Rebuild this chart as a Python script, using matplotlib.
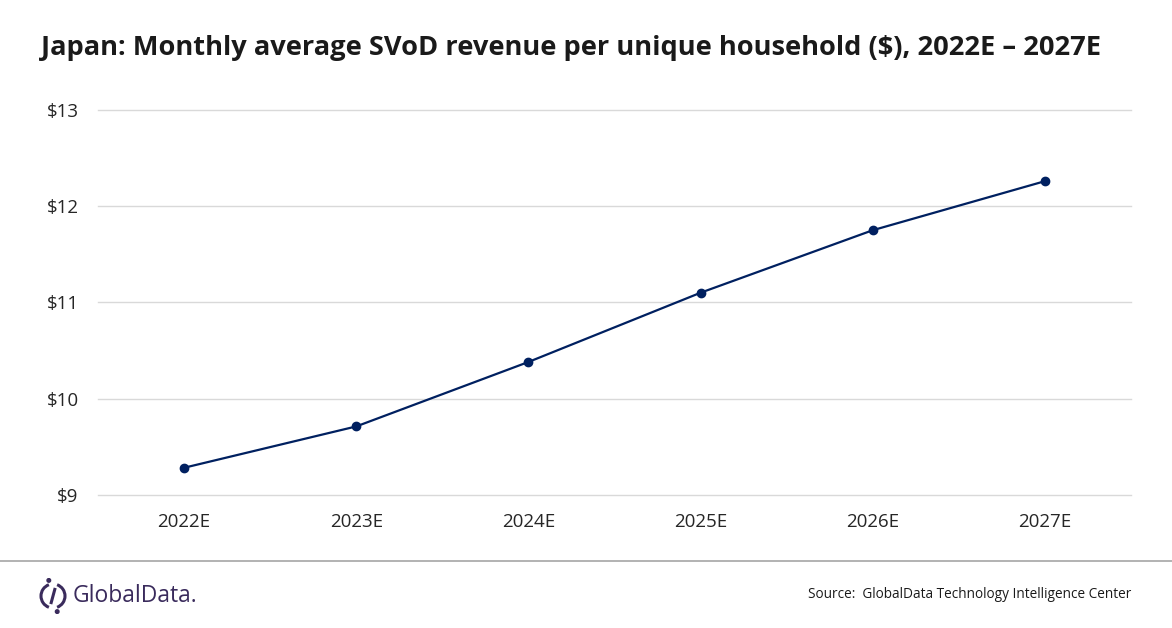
import matplotlib
matplotlib.use("Agg")
import matplotlib.pyplot as plt
from matplotlib.patches import Arc, Circle
from matplotlib.lines import Line2D

# data
years = ["2022E", "2023E", "2024E", "2025E", "2026E", "2027E"]
revenue = [9.28, 9.71, 10.38, 11.10, 11.75, 12.26]
y_ticks = [9, 10, 11, 12, 13]
y_labels = ["$9", "$10", "$11", "$12", "$13"]

navy = "#002060"
purple = "#3a2b5c"

plt.rcParams['font.family'] = ['Open Sans', 'DejaVu Sans']

fig = plt.figure(figsize=(11.72, 6.28), dpi=100)
ax = fig.add_axes([98/1172, 1 - 494.7/628, 1033/1172, 384.7/628])

ax.plot(range(len(years)), revenue, color=navy, linewidth=1.6,
        marker='o', markersize=6, zorder=3)

ax.set_xlim(-0.5, len(years) - 0.5)
ax.set_ylim(9, 13)
ax.set_xticks(range(len(years)))
ax.set_xticklabels(years, fontsize=13.5, color="#262626")
ax.set_yticks(y_ticks)
ax.set_yticklabels(y_labels, fontsize=13.5, color="#262626")
ax.tick_params(length=0)
ax.tick_params(axis='x', pad=13)
ax.tick_params(axis='y', pad=14)
ax.grid(axis='y', color="#d9d9d9", linewidth=1)
for gl in ax.get_ygridlines():
    gl.set_clip_on(False)
ax.set_axisbelow(True)
for s in ax.spines.values():
    s.set_visible(False)

# title
fig.text(41/1172, 1 - 48/628, "Japan: Monthly average SVoD revenue per unique household ($), 2022E \u2013 2027E",
         fontsize=19.6, fontweight='bold', color="#1a1a1a", va='center', ha='left')

# separator line
fig.add_artist(Line2D([0, 1], [1 - 561/628, 1 - 561/628], color="#a6a6a6", linewidth=1.2,
                      transform=fig.transFigure))

# source
fig.text(1131/1172, 1 - 594/628, "Source:  GlobalData Technology Intelligence Center",
         fontsize=9.8, color="#1a1a1a", ha='right', va='center')

# logo
lax = fig.add_axes([38/1172, 1 - 614/628, 30/1172, 36/628])
lax.set_xlim(-1.25, 1.25)
lax.set_ylim(-1.5, 1.5)
lax.set_aspect('equal')
lax.axis('off')
lax.add_patch(Arc((0, 0), 2.0, 2.0, theta1=110, theta2=250, color=purple, linewidth=2.2))
lax.add_patch(Arc((0, 0), 2.0, 2.0, theta1=290, theta2=70, color=purple, linewidth=2.2))
lax.plot([0.15, -0.15], [0.55, -0.55], color=purple, linewidth=2.2)
lax.add_patch(Circle((-0.35, 1.3), 0.15, color=purple))
lax.add_patch(Circle((0.35, -1.3), 0.15, color=purple))
fig.text(73/1172, 1 - 596/628, "GlobalData.", fontsize=16.5, color=purple, va='center', ha='left')

fig.savefig("out.png", dpi=100, facecolor='white')
